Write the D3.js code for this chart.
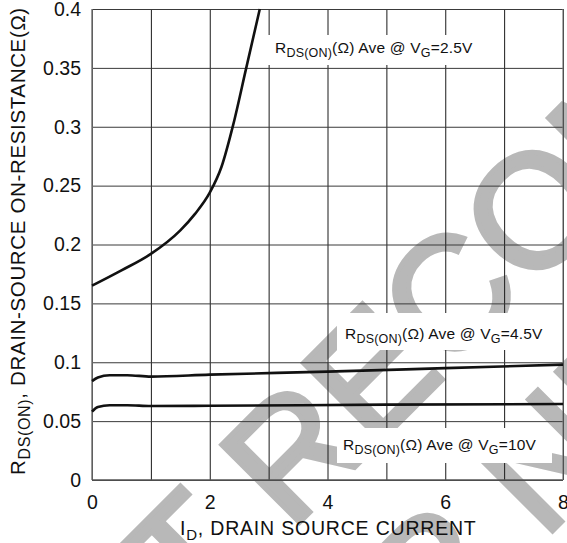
<!DOCTYPE html>
<html>
<head>
<meta charset="utf-8">
<script src="https://cdn.jsdelivr.net/npm/d3@7"></script>
<style>
  html, body { margin: 0; padding: 0; background: #fff; }
  svg { display: block; font-family: "Liberation Sans", Arial, sans-serif; }
</style>
</head>
<body>
<div id="chart"></div>
<script>
// tick values
var xTicks = [0, 2, 4, 6, 8];
var xGrid = [0, 1, 2, 3, 4, 5, 6, 7, 8];
var yTicks = [0, 0.05, 0.1, 0.15, 0.2, 0.25, 0.3, 0.35, 0.4];

// R_DS(ON) vs I_D
var idVG25 = [0, 0.5, 1, 1.5, 1.75, 2, 2.2, 2.4, 2.62, 2.85];
var rdsVG25 = [0.165, 0.178, 0.192, 0.212, 0.226, 0.244, 0.266, 0.302, 0.35, 0.4];

var idVG45 = [0, 0.1, 0.3, 0.6, 1, 2, 4, 6, 8];
var rdsVG45 = [0.084, 0.087, 0.089, 0.089, 0.0878, 0.0895, 0.092, 0.095, 0.098];

var idVG10 = [0, 0.1, 0.3, 0.6, 1, 2, 5, 8];
var rdsVG10 = [0.058, 0.062, 0.0635, 0.0635, 0.0628, 0.063, 0.064, 0.0645];

var seriesLabels = ["=2.5V", "=4.5V", "=10V"];

var width = 567, height = 543;

var x = d3.scaleLinear().domain([0, 8]).range([92, 563]);
var y = d3.scaleLinear().domain([0, 0.4]).range([480, 9]);

var svg = d3.select("#chart").append("svg")
    .attr("width", width)
    .attr("height", height);

// watermark behind everything
var wm = svg.append("g")
    .attr("transform", "translate(22,800) rotate(-45)")
    .style("fill", "#b8b8b8")
    .style("stroke", "#b8b8b8")
    .style("stroke-width", 5)
    .style("font-size", "160px");
wm.append("text").attr("x", 0).attr("y", 0).text("NOT RECOMMENDED");
wm.append("text").attr("x", 170).attr("y", 185).text("FOR NEW DESIGN");

// grid
svg.append("g")
  .attr("class", "grid")
  .attr("transform", "translate(0," + y(0) + ")")
  .call(d3.axisBottom(x).tickValues(xGrid).tickSize(-(y(0) - y(0.4))).tickFormat(""))
  .call(function(g) { g.select(".domain").remove(); })
  .selectAll("line").attr("stroke", "#1a1a1a").attr("stroke-width", 1);

svg.append("g")
  .attr("class", "grid")
  .attr("transform", "translate(" + x(0) + ",0)")
  .call(d3.axisLeft(y).tickValues(yTicks).tickSize(-(x(8) - x(0))).tickFormat(""))
  .call(function(g) { g.select(".domain").remove(); })
  .selectAll("line").attr("stroke", "#3a3a3a").attr("stroke-width", 1);

// frame lines (left, bottom, right)
svg.append("line").attr("x1", x(0)).attr("x2", x(0)).attr("y1", y(0.4)).attr("y2", y(0))
  .attr("stroke", "#777").attr("stroke-width", 1.5);
svg.append("line").attr("x1", x(0)).attr("x2", x(8)).attr("y1", y(0)).attr("y2", y(0))
  .attr("stroke", "#555").attr("stroke-width", 1.5);
svg.append("line").attr("x1", x(8)).attr("x2", x(8)).attr("y1", y(0.4)).attr("y2", y(0))
  .attr("stroke", "#777").attr("stroke-width", 1.2);

// curves
var line = d3.line()
    .x(function(d) { return x(d[0]); })
    .y(function(d) { return y(d[1]); })
    .curve(d3.curveMonotoneX);

[[idVG25, rdsVG25], [idVG45, rdsVG45], [idVG10, rdsVG10]].forEach(function(s) {
  svg.append("path")
    .datum(d3.zip(s[0], s[1]))
    .attr("d", line)
    .attr("fill", "none")
    .attr("stroke", "#111")
    .attr("stroke-width", 2.6);
});

// series labels with white boxes
function seriesLabel(bx, by, bw, bh, tx, ty, tail) {
  svg.append("rect").attr("x", bx).attr("y", by).attr("width", bw).attr("height", bh).attr("fill", "#fff");
  var t = svg.append("text").attr("x", tx).attr("y", ty)
      .style("font-size", "15.5px").style("letter-spacing", "0.2px").attr("fill", "#111");
  t.append("tspan").text("R");
  t.append("tspan").attr("dy", 4).style("font-size", "12.5px").text("DS(ON)");
  t.append("tspan").attr("dy", -4).text("(Ω) Ave @ V");
  t.append("tspan").attr("dy", 4).style("font-size", "12.5px").text("G");
  t.append("tspan").attr("dy", -4).text(tail);
}
seriesLabel(265, 35, 234, 30, 275, 53, seriesLabels[0]);
seriesLabel(337, 313, 224, 37, 345, 339, seriesLabels[1]);
seriesLabel(337, 428, 215, 35, 343, 450, seriesLabels[2]);

// tick labels
svg.append("g")
  .attr("transform", "translate(0," + y(0) + ")")
  .call(d3.axisBottom(x).tickValues(xTicks).tickSize(0).tickPadding(15).tickFormat(d3.format("d")))
  .call(function(g) { g.select(".domain").remove(); })
  .selectAll("text")
  .style("font-family", "Liberation Sans, Arial, sans-serif")
  .style("font-size", "19.5px").attr("fill", "#111");

svg.append("g")
  .attr("transform", "translate(" + x(0) + ",0)")
  .call(d3.axisLeft(y).tickValues(yTicks).tickSize(0).tickPadding(11)
        .tickFormat(function(d) { return d === 0 ? "0" : String(+d.toFixed(2)); }))
  .call(function(g) { g.select(".domain").remove(); })
  .selectAll("text")
  .style("font-family", "Liberation Sans, Arial, sans-serif")
  .style("font-size", "19.5px").attr("fill", "#111");

// axis titles
var xt = svg.append("text").attr("x", 180).attr("y", 535)
    .style("font-size", "19.5px").style("letter-spacing", "0.8px").attr("fill", "#111");
xt.append("tspan").text("I");
xt.append("tspan").attr("dy", 5).style("font-size", "15px").text("D");
xt.append("tspan").attr("dy", -5).text(", DRAIN SOURCE CURRENT");

var yt = svg.append("text")
    .attr("transform", "translate(25,475) rotate(-90)")
    .style("font-size", "20.5px").style("letter-spacing", "0.65px").attr("fill", "#111");
yt.append("tspan").text("R");
yt.append("tspan").attr("dy", 5).style("font-size", "16px").text("DS(ON)");
yt.append("tspan").attr("dy", -5).text(", DRAIN-SOURCE ON-RESISTANCE(Ω)");
</script>
</body>
</html>
